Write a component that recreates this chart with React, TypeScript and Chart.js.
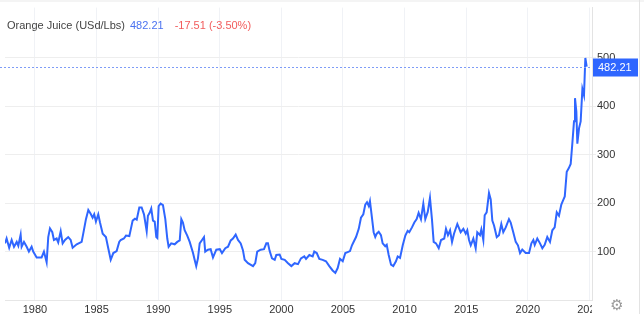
import React, { useEffect, useRef } from "react";
import { Chart, registerables } from "chart.js";

Chart.register(...registerables);

const title = "Orange Juice (USd/Lbs)";
const lastPrice = 482.21;
const changeText = "-17.51 (-3.50%)";

const xTicks = [1980, 1985, 1990, 1995, 2000, 2005, 2010, 2015, 2020, 2025];
const yTicks = [100, 200, 300, 400, 500];

const years = [
  1977.57, 1977.70, 1977.91, 1978.11, 1978.30, 1978.52, 1978.65, 1978.84, 1978.92, 1979.11,
  1979.33, 1979.51, 1979.73, 1979.86, 1980.14, 1980.54, 1980.73, 1980.95, 1981.08, 1981.22,
  1981.41, 1981.54, 1981.76, 1981.89, 1982.09, 1982.25, 1982.44, 1982.70, 1982.90, 1983.06,
  1983.39, 1983.79, 1983.92, 1984.14, 1984.33, 1984.52, 1984.68, 1984.81, 1984.95, 1985.14,
  1985.28, 1985.50, 1985.76, 1985.95, 1986.15, 1986.36, 1986.63, 1986.84, 1986.96, 1987.22,
  1987.39, 1987.66, 1987.93, 1988.12, 1988.26, 1988.47, 1988.66, 1988.85, 1989.07, 1989.17,
  1989.31, 1989.44, 1989.58, 1989.72, 1989.85, 1989.93, 1990.04, 1990.20, 1990.39, 1990.58,
  1990.74, 1990.85, 1991.06, 1991.34, 1991.55, 1991.75, 1991.88, 1992.01, 1992.15, 1992.36,
  1992.56, 1992.83, 1992.96, 1993.09, 1993.23, 1993.37, 1993.56, 1993.72, 1993.82, 1994.04,
  1994.26, 1994.45, 1994.72, 1995.00, 1995.18, 1995.45, 1995.67, 1995.89, 1996.07, 1996.29,
  1996.48, 1996.70, 1996.88, 1997.02, 1997.29, 1997.70, 1997.88, 1998.04, 1998.32, 1998.59,
  1998.78, 1998.91, 1999.05, 1999.24, 1999.46, 1999.59, 1999.86, 2000.00, 2000.27, 2000.54,
  2000.81, 2001.08, 2001.35, 2001.59, 2001.86, 2002.00, 2002.27, 2002.54, 2002.67, 2002.87,
  2003.08, 2003.35, 2003.62, 2003.89, 2004.16, 2004.38, 2004.57, 2004.76, 2004.98, 2005.19,
  2005.38, 2005.57, 2005.73, 2005.92, 2006.06, 2006.28, 2006.46, 2006.65, 2006.81, 2006.95,
  2007.09, 2007.19, 2007.35, 2007.49, 2007.62, 2007.74, 2007.90, 2008.08, 2008.22, 2008.43,
  2008.55, 2008.71, 2008.90, 2009.08, 2009.30, 2009.44, 2009.63, 2009.85, 2010.06, 2010.25,
  2010.38, 2010.60, 2010.79, 2010.98, 2011.14, 2011.33, 2011.52, 2011.68, 2011.88, 2012.06,
  2012.22, 2012.36, 2012.55, 2012.77, 2012.96, 2013.22, 2013.36, 2013.52, 2013.69, 2013.85,
  2014.01, 2014.28, 2014.55, 2014.77, 2014.96, 2015.09, 2015.23, 2015.37, 2015.58, 2015.77,
  2015.90, 2016.12, 2016.23, 2016.39, 2016.50, 2016.66, 2016.85, 2016.99, 2017.12, 2017.26,
  2017.48, 2017.66, 2017.85, 2018.01, 2018.21, 2018.47, 2018.61, 2018.82, 2019.02, 2019.20,
  2019.37, 2019.55, 2019.83, 2020.10, 2020.29, 2020.45, 2020.56, 2020.77, 2020.99, 2021.18,
  2021.37, 2021.58, 2021.80, 2021.99, 2022.18, 2022.35, 2022.53, 2022.72, 2022.88, 2023.00,
  2023.16, 2023.32, 2023.48, 2023.61, 2023.75, 2023.83, 2023.94, 2024.02, 2024.16, 2024.29,
  2024.43, 2024.56, 2024.67, 2024.78,
];

const prices = [
  117, 127, 108, 124, 110, 120, 112, 135, 110, 120,
  110, 100, 110, 100, 88, 88, 100, 78, 130, 148,
  140, 124, 127, 119, 142, 117, 124, 130, 124, 108,
  115, 120, 137, 167, 186, 178, 170, 177, 162, 177,
  160, 137, 130, 107, 83, 97, 101, 120, 124, 127,
  133, 132, 164, 168, 166, 191, 191, 177, 142, 174,
  180, 189, 164, 162, 130, 128, 194, 199, 196, 167,
  127, 110, 117, 115, 120, 123, 167, 160, 144, 133,
  120, 97, 83, 70, 86, 117, 124, 130, 100, 104,
  105, 88, 104, 105, 97, 107, 110, 123, 127, 135,
  124, 117, 103, 83, 76, 70, 76, 100, 104, 105,
  117, 117, 101, 86, 83, 93, 94, 85, 83, 76,
  70, 76, 74, 86, 90, 85, 93, 90, 100, 97,
  85, 83, 80, 70, 61, 56, 66, 85, 80, 97,
  99, 101, 113, 123, 130, 147, 170, 177, 197, 202,
  194, 204, 170, 140, 130, 137, 141, 134, 117, 111,
  114, 93, 73, 70, 80, 90, 87, 113, 133, 143,
  140, 150, 160, 167, 180, 167, 199, 167, 182, 211,
  167, 120, 117, 107, 124, 127, 147, 134, 144, 120,
  137, 157, 140, 147, 137, 144, 124, 113, 127, 107,
  140, 134, 146, 124, 175, 181, 221, 208, 164, 154,
  130, 134, 157, 140, 150, 167, 160, 140, 120, 113,
  97, 104, 97, 97, 117, 124, 114, 127, 117, 107,
  114, 130, 120, 144, 150, 181, 174, 197, 207, 214,
  265, 272, 281, 322, 369, 417, 389, 323, 355, 369,
  436, 423, 500, 482.21,
];

const FONT = '"Liberation Sans", Arial, Helvetica, sans-serif';
const LINE = "#2f66ff";

const overlay = {
  id: "overlay",
  afterDraw(chart: any) {
    const { ctx, chartArea, scales } = chart;
    const W = chart.width;
    const H = chart.height;
    ctx.save();
    // top band
    ctx.fillStyle = "#f4f4f4";
    ctx.fillRect(0, 0, W, 2);
    // cover clipped part of bottom-right
    ctx.fillStyle = "#ffffff";
    ctx.fillRect(chartArea.right, chartArea.bottom + 1, W - chartArea.right, H - chartArea.bottom);
    // right border
    ctx.strokeStyle = "#e3e3e3";
    ctx.lineWidth = 1;
    ctx.beginPath();
    ctx.moveTo(639.5, 0);
    ctx.lineTo(639.5, H);
    ctx.stroke();
    // current price dotted line
    const y = Math.round(scales.y.getPixelForValue(lastPrice)) + 0.5;
    ctx.strokeStyle = "#7e9cf7";
    ctx.setLineDash([2, 2]);
    ctx.beginPath();
    ctx.moveTo(0, y);
    ctx.lineTo(chartArea.right, y);
    ctx.stroke();
    ctx.setLineDash([]);
    // price box
    ctx.fillStyle = LINE;
    ctx.fillRect(chartArea.right + 1, y - 9, 45, 18);
    ctx.fillStyle = "#ffffff";
    ctx.font = "11px " + FONT;
    ctx.textBaseline = "middle";
    ctx.textAlign = "left";
    ctx.fillText(lastPrice.toFixed(2), chartArea.right + 6, y + 0.5);
    // header
    ctx.font = "11px " + FONT;
    let x = 7;
    const ty = 26;
    ctx.fillStyle = "#444444";
    ctx.fillText(title, x, ty);
    x += ctx.measureText(title).width + 5;
    ctx.fillStyle = "#4a72f0";
    const lp = lastPrice.toFixed(2);
    ctx.fillText(lp, x, ty);
    x += ctx.measureText(lp).width + 11;
    ctx.fillStyle = "#f25c5c";
    ctx.fillText(changeText, x, ty);
    // gear
    ctx.fillStyle = "#9a9a9a";
    ctx.font = '15px "DejaVu Sans", sans-serif';
    ctx.textAlign = "center";
    ctx.fillText("\u2699", 617, 306);
    ctx.restore();
  },
};

export default function App() {
  const ref = useRef<HTMLCanvasElement | null>(null);
  useEffect(() => {
    document.body.style.margin = "0";
    const canvas = ref.current!;
    const data = years.map((yr, i) => ({ x: yr, y: prices[i] }));
    const chart = new Chart(canvas, {
      type: "line",
      data: {
        datasets: [
          {
            data,
            borderColor: LINE,
            borderWidth: 2,
            pointRadius: 0,
            tension: 0,
            fill: false,
          },
        ],
      },
      options: {
        animation: false,
        responsive: false,
        devicePixelRatio: 1,
        layout: { padding: { left: 5, top: 0, right: 0, bottom: 0 } },
        plugins: { legend: { display: false }, tooltip: { enabled: false } },
        scales: {
          x: {
            type: "linear",
            min: years[0],
            max: 2025.21,
            afterBuildTicks: (axis: any) => {
              axis.ticks = xTicks.map((v) => ({ value: v }));
            },
            afterFit: (s: any) => {
              s.height = 14;
            },
            grid: { color: "#f0f2f6", drawTicks: false },
            border: { color: "#e6e6e6" },
            ticks: {
              autoSkip: false,
              maxRotation: 0,
              padding: 3,
              color: "#333333",
              font: { family: FONT, size: 11 },
              callback: (v: any) => String(v),
            },
          },
          y: {
            position: "right",
            min: 0,
            max: 604,
            afterBuildTicks: (axis: any) => {
              axis.ticks = yTicks.map((v) => ({ value: v }));
            },
            afterFit: (s: any) => {
              s.width = 52;
            },
            grid: { color: "#eeeeee", tickLength: 4 },
            border: { color: "#e3e3e3" },
            ticks: {
              padding: 1,
              color: "#333333",
              font: { family: FONT, size: 11 },
              callback: (v: any) => String(v),
            },
          },
        },
      },
      plugins: [overlay],
    });
    return () => chart.destroy();
  }, []);
  return (
    <div style={{ position: "absolute", left: 0, top: 0, width: 644, height: 314 }}>
      <canvas ref={ref} width={644} height={314} style={{ width: 644, height: 314 }} />
    </div>
  );
}
